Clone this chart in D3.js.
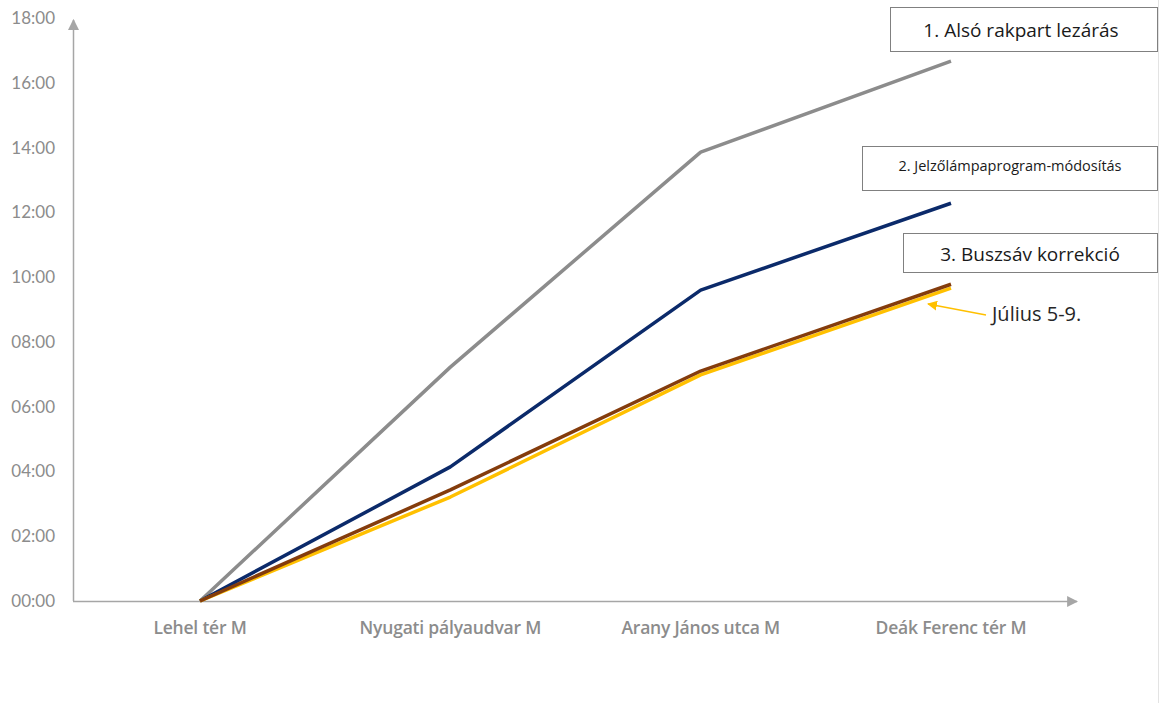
<!DOCTYPE html>
<html><head><meta charset="utf-8">
<script src="https://cdn.jsdelivr.net/npm/d3@7"></script>
<style>body{margin:0;background:#fff;} svg{display:block;}</style>
</head><body>
<svg id="c" width="1163" height="703"></svg>
<script>
const categories = ["Lehel tér M", "Nyugati pályaudvar M", "Arany János utca M", "Deák Ferenc tér M"];
// values in minutes
const seriesAlso = [0, 7.22, 13.86, 16.67];
const seriesJelzo = [0, 4.14, 9.60, 12.28];
const seriesBusz = [0, 3.43, 7.10, 9.78];
const seriesJulius = [0, 3.21, 6.98, 9.66];
const yTicks = [0, 2, 4, 6, 8, 10, 12, 14, 16, 18];
const yTickLabels = ["00:00","02:00","04:00","06:00","08:00","10:00","12:00","14:00","16:00","18:00"];

const svg = d3.select("#c");
const fontL = "Lato, sans-serif";
const fontO = "'Open Sans', sans-serif";
const x = d3.scalePoint().domain(categories).range([200, 951]);
const y = d3.scaleLinear().domain([0, 18]).range([601, 18]);

// faint sheet border at right edge
svg.append("line").attr("x1",1158.5).attr("x2",1158.5).attr("y1",0).attr("y2",703)
  .attr("stroke","#e3e3e3").attr("stroke-width",1);

// axes
const axisColor = "#a6a6a6";
const defs = svg.append("defs");
defs.append("marker").attr("id","axArrow").attr("viewBox","0 0 10 10").attr("refX",9).attr("refY",5)
  .attr("markerWidth",11).attr("markerHeight",11).attr("markerUnits","userSpaceOnUse").attr("orient","auto")
  .append("path").attr("d","M0,0 L10,5 L0,10 Z").attr("fill",axisColor);
defs.append("marker").attr("id","ylArrow").attr("viewBox","0 0 10 10").attr("refX",9).attr("refY",5)
  .attr("markerWidth",10).attr("markerHeight",10).attr("markerUnits","userSpaceOnUse").attr("orient","auto")
  .append("path").attr("d","M0,0 L10,5 L0,10 Z").attr("fill","#ffc000");

svg.append("line").attr("x1",73.5).attr("x2",73.5).attr("y1",601).attr("y2",20)
  .attr("stroke",axisColor).attr("stroke-width",1.5).attr("marker-end","url(#axArrow)");
svg.append("line").attr("x1",73).attr("x2",1077).attr("y1",601.5).attr("y2",601.5)
  .attr("stroke",axisColor).attr("stroke-width",1.5).attr("marker-end","url(#axArrow)");

// y tick labels
svg.append("g").selectAll("text").data(yTicks).join("text")
  .attr("x",55).attr("y",d=>y(d)).attr("dy","0.35em").attr("text-anchor","end")
  .attr("font-family",fontL).attr("font-size",17).attr("fill","#8c8c8c")
  .text((d,i)=>yTickLabels[i]);

// x labels
svg.append("g").selectAll("text").data(categories).join("text")
  .attr("x",d=>x(d)).attr("y",634).attr("text-anchor","middle")
  .attr("font-family",fontO).attr("font-size",17.5).attr("font-weight",600).attr("fill","#8c8c8c")
  .attr("letter-spacing","-0.2px")
  .text(d=>d);

// lines
const line = d3.line().x((d,i)=>x(categories[i])).y(d=>y(d));
const series = [
  {v: seriesAlso, c: "#8c8c8c"},
  {v: seriesJelzo, c: "#0b2a6a"},
  {v: seriesJulius, c: "#ffc000"},
  {v: seriesBusz, c: "#843c0c"}
];
svg.append("g").selectAll("path").data(series).join("path")
  .attr("d",d=>line(d.v)).attr("fill","none").attr("stroke",d=>d.c)
  .attr("stroke-width",3.5).attr("stroke-linejoin","round");

// text boxes
const boxes = [
  {x0:890, y0:7, w:267, h:44, t:"1. Alsó rakpart lezárás", fs:19, tx:1021, ty:30},
  {x0:862, y0:146, w:295, h:44, t:"2. Jelzőlámpaprogram-módosítás", fs:14.5, tx:1010, ty:166},
  {x0:903, y0:233, w:254, h:39, t:"3. Buszsáv korrekció", fs:19, tx:1030, ty:254}
];
const bg = svg.append("g");
boxes.forEach(b=>{
  bg.append("rect").attr("x",b.x0+0.5).attr("y",b.y0+0.5).attr("width",b.w).attr("height",b.h)
    .attr("fill","#fff").attr("stroke","#808080").attr("stroke-width",1);
  bg.append("text").attr("x",b.tx).attr("y",b.ty).attr("dy","0.35em").attr("text-anchor","middle")
    .attr("font-family",fontO).attr("font-size",b.fs).attr("fill","#1a1a1a").text(b.t);
});

// annotation
svg.append("line").attr("x1",986).attr("y1",315).attr("x2",928).attr("y2",304)
  .attr("stroke","#ffc000").attr("stroke-width",1.5).attr("marker-end","url(#ylArrow)");
svg.append("text").attr("x",992).attr("y",314).attr("dy","0.35em")
  .attr("font-family",fontO).attr("font-size",20).attr("fill","#262626").text("Július 5-9.");
</script>
</body></html>
